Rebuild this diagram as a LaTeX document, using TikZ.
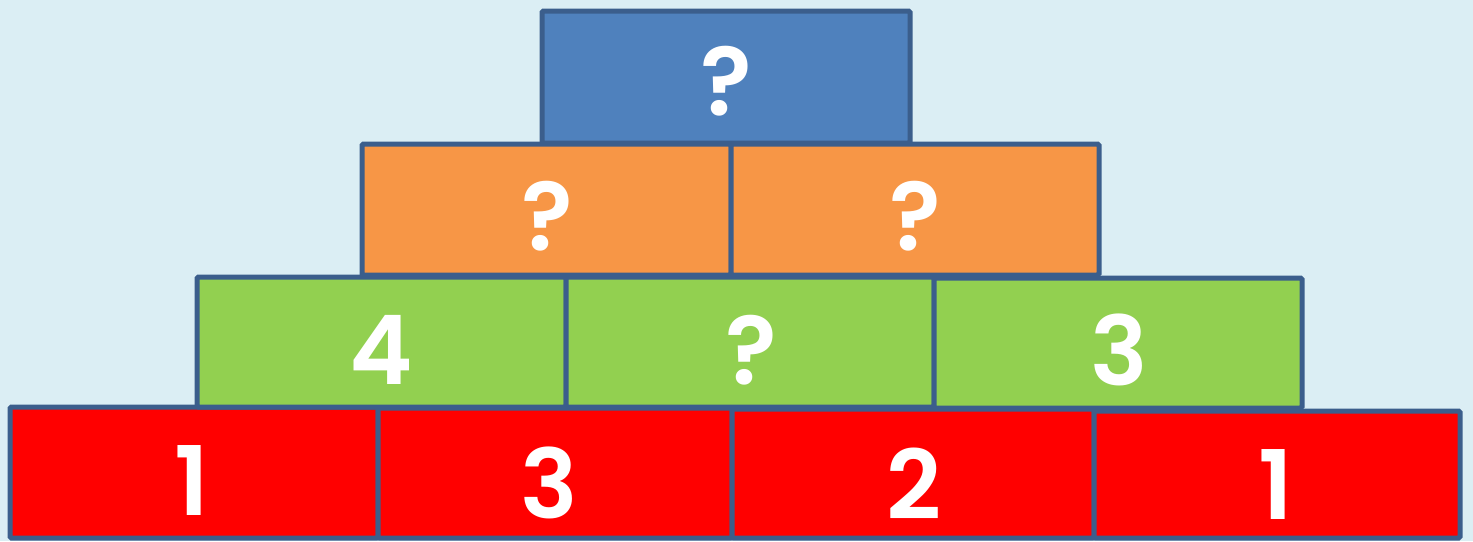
\documentclass[tikz,border=0pt]{standalone}
\usepackage{fontspec}
\newfontfamily\pf{Poppins}[UprightFont=* SemiBold, BoldFont=* SemiBold]
\definecolor{bg}{HTML}{DBEEF4}
\definecolor{edge}{HTML}{3B5E8C}
\definecolor{topblue}{HTML}{4F81BD}
\definecolor{orng}{HTML}{F79646}
\definecolor{grn}{HTML}{92D050}
\definecolor{rd}{HTML}{FF0000}
\tikzset{
  blk/.style={draw=edge, line width=5pt, rounded corners=1.5pt, inner sep=0pt, outer sep=0pt, anchor=north west},
  lbl/.style={text=white, font=\pf\fontsize{96}{96}\selectfont, inner sep=0pt},
}
\begin{document}
\begin{tikzpicture}[x=1pt,y=-1pt]
\fill[bg] (0,0) rectangle (1473,541);
\useasboundingbox (0,0) rectangle (1473,541);
% red row
\node[blk, fill=rd, minimum width=368pt, minimum height=131pt] (r1) at (10,407) {};
\node[blk, fill=rd, minimum width=354pt, minimum height=130pt] (r2) at (378,408) {};
\node[blk, fill=rd, minimum width=362pt, minimum height=129pt] (r3) at (732,409) {};
\node[blk, fill=rd, minimum width=366pt, minimum height=127pt] (r4) at (1094,411) {};
% green row
\node[blk, fill=grn, minimum width=369pt, minimum height=130pt] (g1) at (197,277) {};
\node[blk, fill=grn, minimum width=368pt, minimum height=130pt] (g2) at (566,277) {};
\node[blk, fill=grn, minimum width=368pt, minimum height=130pt] (g3) at (934,278) {};
% orange row
\node[blk, fill=orng, minimum width=369pt, minimum height=131pt] (o1) at (362,144) {};
\node[blk, fill=orng, minimum width=368pt, minimum height=131pt] (o2) at (731,144) {};
% top
\node[blk, fill=topblue, minimum width=368pt, minimum height=132pt] (t) at (542,11) {};
% labels
\node[lbl] (lt) at (726,81) {?};
\node[lbl] (lo1) at (547,216) {?};
\node[lbl] (lo2) at (915,216) {?};
\node[lbl] (lg1) at (381,350) {4};
\node[lbl] (lg2) at (751,350) {?};
\node[lbl] (lg3) at (1119,350) {3};
\node[lbl] (lr1) at (192,481) {1};
\node[lbl] (lr2) at (549,483) {3};
\node[lbl] (lr3) at (914,484) {2};
\node[lbl] (lr4) at (1276,485) {1};
\end{tikzpicture}
\end{document}
